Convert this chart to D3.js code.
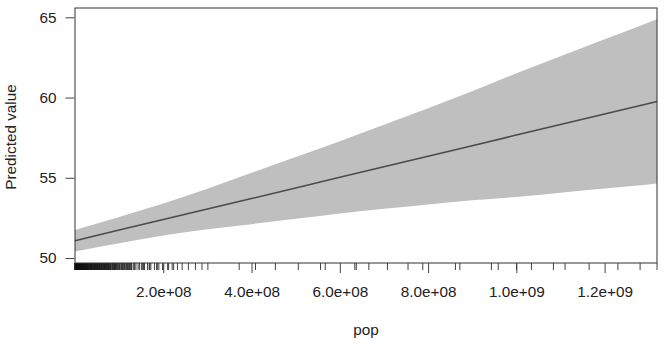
<!DOCTYPE html>
<html><head><meta charset="utf-8">
<script src="https://cdn.jsdelivr.net/npm/d3@7"></script>
<style>body{margin:0;background:#fff}svg{display:block}text{font-family:"Liberation Sans",Arial,Helvetica,sans-serif;fill:#222}</style>
</head><body>
<svg id="c" width="666" height="351"></svg>
<script>
// population (x) at which predictions are shown
const popPts = [0, 1e8, 2e8, 3e8, 4e8, 5e8, 6e8, 7e8, 8e8, 9e8, 10e8, 11e8, 12e8, 13e8, 13.19e8];
const fitVals = [51.08, 51.74, 52.40, 53.05, 53.71, 54.37, 55.03, 55.69, 56.34, 57.00, 57.66, 58.32, 58.98, 59.63, 59.76];
const lowVals = [50.41, 50.92, 51.40, 51.79, 52.11, 52.44, 52.78, 53.07, 53.34, 53.60, 53.81, 54.07, 54.33, 54.58, 54.64];
const highVals = [51.75, 52.56, 53.40, 54.31, 55.31, 56.30, 57.28, 58.31, 59.34, 60.40, 61.51, 62.57, 63.63, 64.68, 64.88];
const xTicks = [2e8, 4e8, 6e8, 8e8, 1e9, 1.2e9];
const yTicks = [50, 55, 60, 65];
// observed populations (millions) for the rug
const rugPop = [0.06,0.2,0.4,0.6,0.8,1.0,1.2,1.4,1.6,1.8,2.0,2.3,2.6,2.9,3.2,3.5,3.8,4.1,4.4,4.7,5.0,5.4,5.8,6.2,6.6,7.0,7.5,8.0,8.5,9.0,9.6,10.2,10.8,11.4,12.0,12.7,13.4,14.1,14.8,15.6,16.4,17.2,18.0,18.9,19.8,20.7,21.6,22.6,23.6,24.6,25.6,26.7,27.8,28.9,30.1,31.3,32.5,33.8,35.1,36.4,37.7,39.1,40.5,41.9,43.4,44.9,46.4,47.8,49.4,50.9,52.1,53.4,54.8,56.2,57.4,58.7,60.1,61.4,62.8,64.2,65.6,67.0,68.6,70.3,71.9,73.0,74.6,76.0,78.0,80.3,82.0,84.2,86.5,89.0,90.1,92.3,95.8,99.0,101.8,104.0,107.2,110.4,113.8,117.4,121.3,123.5,127.5,128.5,
  0.3,0.9,1.3,2.2,2.7,3.4,4.3,5.2,6.0,6.9,7.8,8.8,9.9,11.1,12.3,13.7,15.2,16.8,18.4,20.2,22.1,24.1,26.2,28.3,29.5,31.9,34.4,36.9,38.3,40.9,44.2,45.6,48.6,51.5,55.4,59.3,63.4,66.3,69.4,72.5,75.2,77.3,81.2,85.4,88.0,91.2,93.9,97.1,100.5,105.6,108.6,112.0,116.0,119.0,125.4,
  132.2,135.0,138.0,142.9,146.0,150.4,153.3,155.4,157.5,164.3,168.0,169.3,171.9,180.0,185.0,186.5,190.0,198.7,199.3,209.9,212.1,220.2,223.5,232.2,242.8,256.9,272.9,287.7,301.1,372.0,409.0,454.0,506.0,556.3,567.0,634.0,637.4,665.8,708.0,754.6,788.0,862.0,872.0,943.5,959.0,1000.3,1034.2,1084.0,1110.4,1164.9,1230.1,1280.4,1318.7];

const svg = d3.select("#c");
const L = 75, R = 657, T = 8, B = 263;
const x = d3.scaleLinear().domain([0, 1.3187e9]).range([L, R]);
const y = d3.scaleLinear().domain([49.69, 65.58]).range([B, T]);

const pts = popPts.map((p, i) => ({p, f: fitVals[i], lo: lowVals[i], hi: highVals[i]}));

svg.append("path").datum(pts)
  .attr("d", d3.area().x(d => x(d.p)).y0(d => y(d.lo)).y1(d => y(d.hi)).curve(d3.curveMonotoneX))
  .attr("fill", "#bfbfbf");
svg.append("path").datum(pts)
  .attr("d", d3.line().x(d => x(d.p)).y(d => y(d.f)))
  .attr("fill", "none").attr("stroke", "#4a4a4a").attr("stroke-width", 1.5);

// rug
svg.append("g").selectAll("line").data(rugPop).join("line")
  .attr("x1", d => x(d * 1e6)).attr("x2", d => x(d * 1e6))
  .attr("y1", B).attr("y2", B + 7)
  .attr("stroke", "#111").attr("stroke-width", 0.8);

// box
svg.append("rect").attr("x", L).attr("y", T).attr("width", R - L).attr("height", B - T)
  .attr("fill", "none").attr("stroke", "#333").attr("stroke-width", 1);

function fmt(v) {
  const s = d3.format(".1e")(v);
  return s.replace(/e([+-])(\d)$/, "e$10$2");
}

const FS = "15.3px";
const xa = svg.append("g").attr("transform", `translate(0,${B})`)
  .call(d3.axisBottom(x).tickValues(xTicks).tickFormat(fmt).tickSize(10).tickPadding(13));
xa.select(".domain").remove();
xa.selectAll(".tick line").attr("stroke", "#444");
xa.selectAll("text").attr("font-size", FS).attr("fill", "#222");

const ya = svg.append("g").attr("transform", `translate(${L - 0.5},0)`)
  .call(d3.axisLeft(y).tickValues(yTicks).tickSize(9).tickPadding(9));
ya.select(".domain").remove();
ya.selectAll(".tick line").attr("stroke", "#444");
ya.selectAll("text").attr("font-size", FS).attr("fill", "#222");

svg.append("text").attr("x", (L + R) / 2).attr("y", 335)
  .attr("text-anchor", "middle").attr("font-size", FS).text("pop");
svg.append("text").attr("transform", "translate(15.5,137) rotate(-90)")
  .attr("text-anchor", "middle").attr("font-size", FS).text("Predicted value");
</script>
</body></html>
